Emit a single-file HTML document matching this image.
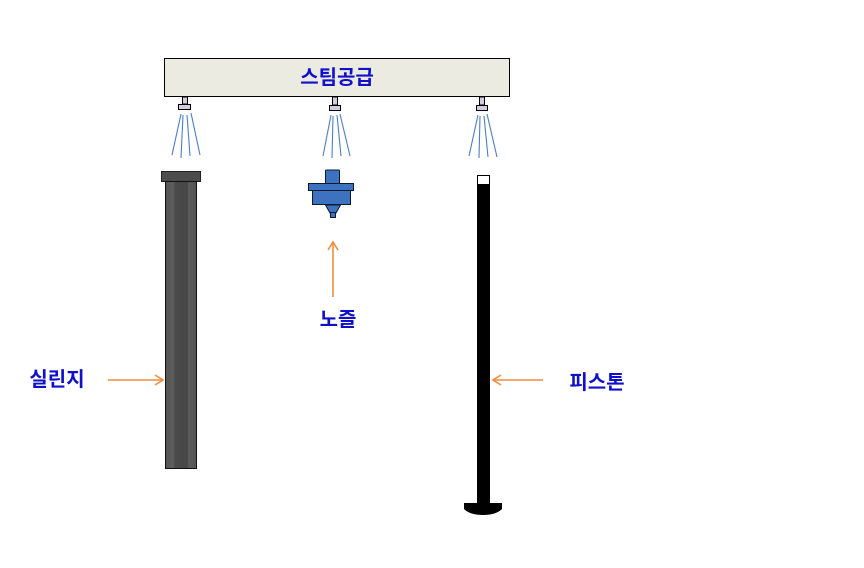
<!DOCTYPE html>
<html><head><meta charset="utf-8"><style>
html,body{margin:0;padding:0;background:#fff;}
svg{display:block}
text{font-family:"Liberation Sans","Noto Sans CJK KR",sans-serif;font-weight:bold;fill:#1010cc;font-size:20px}
</style></head><body>
<svg width="864" height="568" viewBox="0 0 864 568" xmlns="http://www.w3.org/2000/svg">
<defs>
<linearGradient id="cyl" x1="0" x2="1" y1="0" y2="0">
<stop offset="0" stop-color="#555"/><stop offset="0.25" stop-color="#5e5e5e"/><stop offset="0.3" stop-color="#4a4a4a"/><stop offset="0.7" stop-color="#474747"/><stop offset="0.75" stop-color="#5a5a5a"/><stop offset="1" stop-color="#555"/>
</linearGradient>
</defs>
<rect x="164.5" y="58.5" width="345" height="38" fill="#ecebe1" stroke="#000" stroke-width="1"/>
<text x="337" y="84" text-anchor="middle">스팀공급</text>
<g fill="#d4cce0" stroke="#000" stroke-width="1">
<rect x="182.5" y="97" width="5" height="7"/><rect x="178.5" y="104.5" width="12" height="5"/>
<rect x="332.5" y="97" width="5" height="8"/><rect x="329.5" y="105.5" width="11" height="5"/>
<rect x="479.5" y="97" width="5" height="8"/><rect x="476.5" y="105.5" width="11" height="5"/>
</g>
<g stroke="#4a7ed0" stroke-width="1.1">
<line x1="181" y1="114" x2="172" y2="155"/><line x1="183" y1="115" x2="181" y2="158"/><line x1="187" y1="115" x2="190" y2="156"/><line x1="191" y1="113" x2="200" y2="155"/>
<line x1="331" y1="115" x2="323" y2="156"/><line x1="333" y1="116" x2="332" y2="158"/><line x1="337" y1="115" x2="341" y2="156"/><line x1="340" y1="114" x2="350" y2="156"/>
<line x1="478" y1="115" x2="469" y2="156"/><line x1="480" y1="116" x2="479" y2="158"/><line x1="484" y1="116" x2="488" y2="157"/><line x1="487" y1="114" x2="497" y2="157"/>
</g>
<rect x="161.5" y="171.5" width="39" height="10" fill="#4c4c4c" stroke="#222" stroke-width="1"/>
<rect x="165.5" y="181.5" width="31" height="287" fill="url(#cyl)" stroke="#111" stroke-width="1"/>
<g fill="#3d72c0" stroke="#0a1a30" stroke-width="1">
<rect x="325.5" y="170" width="14" height="14" rx="1"/>
<rect x="308.5" y="183.5" width="45" height="7"/>
<rect x="312.5" y="190.5" width="38" height="14"/>
<polygon points="325.5,205 340.5,205 336,213 330,213"/>
<rect x="330.5" y="212.5" width="5" height="5"/>
</g>
<rect x="477" y="185" width="13" height="320" fill="#000"/>
<rect x="477.5" y="175.5" width="12" height="9" fill="#fff" stroke="#000" stroke-width="1"/>
<path d="M464,503 L502,503 L502,509 Q496,515 483,515 Q470,515 464,509 Z" fill="#000"/>
<g stroke="#f28c3c" stroke-width="1.6" fill="none">
<line x1="108" y1="380" x2="163" y2="380"/><polyline points="155,375 163,380 155,385"/>
<line x1="543" y1="380" x2="493" y2="380"/><polyline points="501,375 493,380 501,385"/>
<line x1="333" y1="297" x2="333" y2="242"/><polyline points="328,250 333,242 338,250"/>
</g>
<text x="57" y="386" text-anchor="middle">실린지</text>
<text x="338" y="326" text-anchor="middle">노즐</text>
<text x="597" y="389" text-anchor="middle">피스톤</text>
</svg>
</body></html>
